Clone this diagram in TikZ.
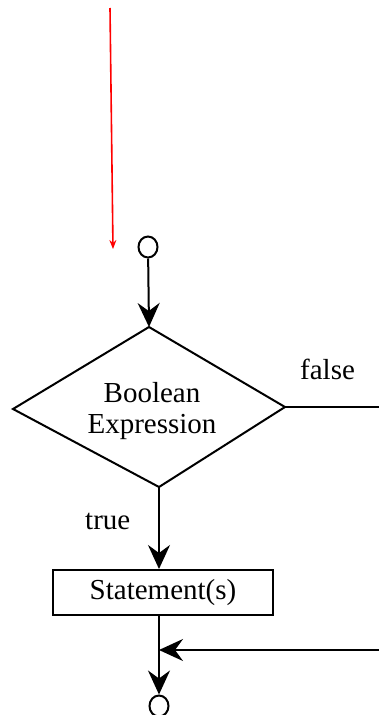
\documentclass[tikz,border=0pt]{standalone}
\usepackage{fontspec}
\setmainfont{Liberation Serif}
\usetikzlibrary{arrows.meta,shapes.geometric}
\begin{document}
\begin{tikzpicture}[x=1pt,y=-1pt,
  line/.style={line width=2pt, black},
  arr/.style={-{Stealth[length=24pt,width=22pt,inset=8pt]}},
  lbl/.style={font=\fontsize{29}{31}\selectfont, inner sep=0pt},
  term/.style={draw, line width=2pt, ellipse, minimum width=19pt, minimum height=21pt, inner sep=0pt},
  stmt/.style={draw, line width=2pt, rectangle, minimum width=220pt, minimum height=45pt, inner sep=0pt, font=\fontsize{29}{31}\selectfont}]
\useasboundingbox (0,0) rectangle (379,715);
% red arrow
\coordinate (r1) at (110,8);
\coordinate (r2) at (113,249);
\draw[red, line width=1.6pt, -{Stealth[length=9pt,width=7pt]}] (r1) -- (r2);
% start terminal
\node[term] (s) at (148,247) {};
% decision diamond
\coordinate (dt) at (149,327);
\coordinate (dr) at (285,407);
\coordinate (db) at (159,487);
\coordinate (dl) at (13,409);
\draw[line, line join=miter] (dt) -- (dr) -- (db) -- (dl) -- cycle;
\node[lbl, align=center] (cond) at (152,411) {Boolean\\Expression};
% false branch
\coordinate (fe) at (379,407);
\draw[line] (dr) -- (fe);
\node[lbl, anchor=base west] (flbl) at (300,379) {false};
% true branch
\node[stmt] (st) at (163,592.5) {Statement(s)};
\node[lbl, anchor=base west] (tlbl) at (85,529) {true};
\draw[line, arr] (s) -- (dt);
\draw[line, arr] (db) -- (db |- st.north);
% end terminal
\node[term] (e) at (159,706) {};
\coordinate (m) at (159,650);
\coordinate (re) at (379,650);
\draw[line, arr] (st.south -| db) -- (e.north);
\draw[line, arr] (re) -- (m);
\end{tikzpicture}
\end{document}
